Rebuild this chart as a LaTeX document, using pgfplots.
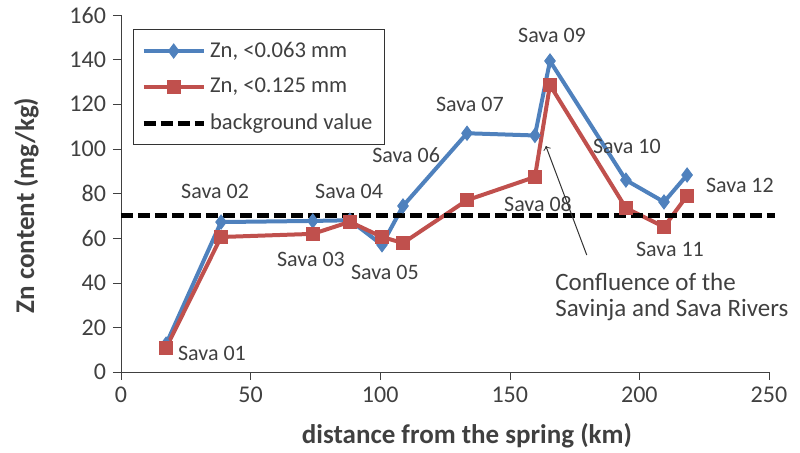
\documentclass[border=0pt]{standalone}
\usepackage{pgfplots}
\pgfplotsset{compat=1.18}
\usepackage{fontspec}
\setmainfont{Carlito}
\definecolor{exblue}{RGB}{79,129,189}
\definecolor{exred}{RGB}{192,80,77}
\definecolor{txt}{RGB}{64,64,64}
\begin{document}
\begin{tikzpicture}
\useasboundingbox (-60.5pt,-40.5pt) rectangle (339.5pt,186pt);
\begin{axis}[
  scale only axis, width=324pt, height=178.5pt,
  xmin=0, xmax=250, ymin=0, ymax=160,
  xtick={0,50,...,250}, ytick={0,20,...,160},
  axis lines=left, axis line style={-, black!75},
  tick align=outside, major tick length=4pt,
  tick style={black!75},
  /pgf/number format/assume math mode=true,
  ticklabel style={font=\fontsize{12}{14}\selectfont, text=txt},
  xlabel={\textbf{distance from the spring (km)}},
  ylabel={\textbf{Zn content (mg/kg)}},
  label style={font=\fontsize{13.5}{16}\selectfont, text=txt},
  xlabel style={yshift=-3.5pt, xshift=11pt},
  ylabel style={yshift=8.5pt, xshift=-6pt},
  clip=false,
  legend style={at={(axis cs:4.6,153.5)}, anchor=north west, draw=black!80,
    font=\fontsize{11.3}{13}\selectfont, text=txt, row sep=5pt, inner xsep=4pt, inner ysep=4pt},
  legend cell align=left,
  legend image code/.code={\draw[#1] (0cm,0cm) -- (1.05cm,0cm); \path[#1,mark repeat=2,mark phase=2] plot coordinates {(0cm,0cm) (0.525cm,0cm) (1.05cm,0cm)};},
]
\addplot[exblue, line width=2pt, mark=diamond*, mark size=3.5pt, mark options={solid, line width=0.5pt}] coordinates {
(17.4,12.5) (38.6,67.2) (74,67.7) (88.3,68) (100.7,57) (108.8,74.4) (133.5,107) (159.7,106) (165.5,139.4) (194.8,86) (209.5,76.2) (218.4,88.3)};
\addlegendentry{Zn, <0.063 mm}
\addplot[exred, line width=2pt, mark=square*, mark size=3.3pt, mark options={solid, line width=0.5pt}] coordinates {
(17.4,10.8) (38.6,60.5) (74,61.9) (88.3,67.3) (100.7,60.5) (108.8,57.8) (133.5,77) (159.7,87.4) (165.5,128.6) (194.8,73.5) (209.5,65) (218.4,79)};
\addlegendentry{Zn, <0.125 mm}
\addplot[black, line width=2.5pt, dash pattern=on 6pt off 2.5pt] coordinates {(0,70) (252.3,70)};
\addlegendentry{background value}
\begin{scope}[every node/.style={font=\fontsize{11}{13}\selectfont, text=txt}]
\node at (axis cs:35.1,8.5) {Sava 01};
\node at (axis cs:36.3,81.1) {Sava 02};
\node at (axis cs:73.3,50.6) {Sava 03};
\node at (axis cs:88,81.1) {Sava 04};
\node at (axis cs:101.8,44.4) {Sava 05};
\node at (axis cs:110,97.2) {Sava 06};
\node at (axis cs:134.6,119.7) {Sava 07};
\node at (axis cs:160.9,75.3) {Sava 08};
\node at (axis cs:166.3,151) {Sava 09};
\node at (axis cs:195.2,101.3) {Sava 10};
\node at (axis cs:211.8,54.7) {Sava 11};
\node at (axis cs:238.8,83.8) {Sava 12};
\end{scope}
\begin{scope}[every node/.style={font=\fontsize{12.5}{15}\selectfont, text=txt}]
\node[anchor=west, inner sep=0pt] at (axis cs:167.4,40.3) {Confluence of the};
\node[anchor=west, inner sep=0pt] at (axis cs:167.4,27.8) {Savinja and Sava Rivers};
\end{scope}
\draw[->, black!80, line width=0.5pt] (axis cs:179.7,52.4) -- (axis cs:163.9,101.3);
\end{axis}
\end{tikzpicture}
\end{document}
